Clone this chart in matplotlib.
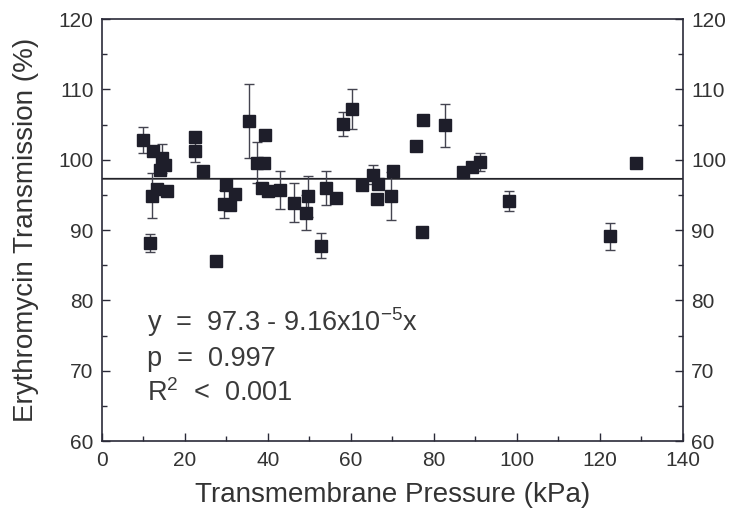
import matplotlib
matplotlib.use("Agg")
import matplotlib.pyplot as plt
import numpy as np
from matplotlib.ticker import MultipleLocator

plt.rcParams['font.family'] = ['Liberation Sans', 'DejaVu Sans']

# transmembrane pressure (kPa), transmission (%), error bar (0 = none)
pressure = [10.0, 12.4, 14.4, 15.2, 14.0, 12.0, 13.2, 15.6, 11.6, 22.4,
            22.4, 24.4, 27.5, 29.9, 29.4, 30.8, 32.0, 35.5, 37.3, 39.1,
            39.4, 38.5, 40.1, 42.9, 46.3, 49.3, 49.7, 52.7, 54.1, 56.4,
            58.1, 60.2, 62.6, 65.4, 66.6, 66.2, 69.8, 70.2, 75.7, 77.4,
            77.2, 82.7, 87.1, 89.1, 91.1, 98.1, 122.4, 128.8]
transmission = [102.8, 101.3, 100.2, 99.3, 98.6, 94.9, 95.9, 95.5, 88.2, 103.2,
                101.3, 98.4, 85.6, 96.4, 93.7, 93.6, 95.2, 105.5, 99.6, 99.5,
                103.5, 96.0, 95.6, 95.7, 93.9, 92.5, 94.8, 87.8, 96.0, 94.5,
                105.1, 107.2, 96.4, 97.9, 96.6, 94.4, 94.8, 98.4, 102.0, 105.6,
                89.8, 104.9, 98.2, 99.0, 99.7, 94.1, 89.1, 99.6]
err = [1.9, 0, 2.1, 0, 0, 3.2, 0, 0, 1.3, 0,
       1.6, 0, 0, 0, 2.0, 0, 0, 5.3, 2.9, 0,
       0, 0, 0, 2.7, 2.8, 2.5, 2.9, 1.75, 2.4, 0,
       1.7, 2.8, 0, 1.3, 0, 0, 3.4, 0, 0, 0,
       0, 3.1, 0, 0, 1.3, 1.4, 1.9, 0]

intercept = 97.3
slope = -9.16e-5

ink = '#2a2a38'
fig = plt.figure(figsize=(7.34, 5.18), dpi=100)
ax = fig.add_axes([0.139, 0.1486, 0.791, 0.8144])

x = np.array(pressure)
y = np.array(transmission)
e = np.array(err)
has = e > 0
ax.errorbar(x[has], y[has], yerr=e[has], fmt='none', ecolor='#444450',
            elinewidth=1.0, capsize=3.5, capthick=1.0, zorder=2)
ax.plot(x, y, 's', ms=8.5, color='#1e1e2a', mec='#1e1e2a', zorder=3)

xf = np.array([0, 140])
ax.plot(xf, intercept + slope * xf, color='#222228', lw=1.3, zorder=1)

ax.set_xlim(0, 140)
ax.set_ylim(60, 120)
ax.xaxis.set_major_locator(MultipleLocator(20))
ax.xaxis.set_minor_locator(MultipleLocator(10))
ax.yaxis.set_major_locator(MultipleLocator(10))
ax.yaxis.set_minor_locator(MultipleLocator(5))
ax.tick_params(which='both', direction='in', colors=ink, labelcolor='#333333',
               labelsize=15, top=False, right=True, labelright=True)
ax.tick_params(which='major', length=6, width=1.0)
ax.tick_params(which='minor', length=3.5, width=1.0)
ax.tick_params(axis='x', which='both', pad=7)
ax.tick_params(axis='y', which='both', pad=6)
for s in ax.spines.values():
    s.set_color(ink)
    s.set_linewidth(1.2)

ax.set_xlabel('Transmembrane Pressure (kPa)', fontsize=20, color='#333333', labelpad=9)
ax.set_ylabel('Erythromycin Transmission (%)', fontsize=20, color='#333333', labelpad=14)

tc = '#3a3a3a'
ax.text(10.8, 75.6, r'y  =  97.3 - 9.16x10$^{\mathregular{-5}}$x', fontsize=19.5, color=tc)
ax.text(10.8, 70.6, 'p  =  0.997', fontsize=19.5, color=tc)
ax.text(10.8, 65.7, r'R$^{\mathregular{2}}$  <  0.001', fontsize=19.5, color=tc)

fig.savefig('out.png', dpi=100)
